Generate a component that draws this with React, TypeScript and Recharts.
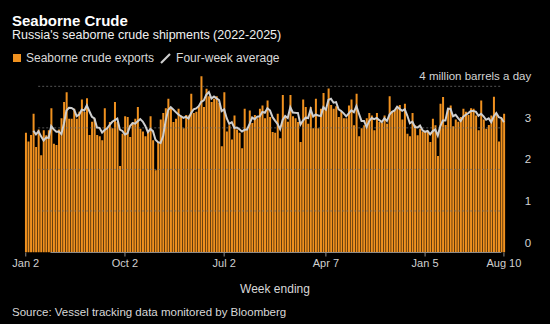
import { Bar, ComposedChart, Line, ReferenceLine, XAxis, YAxis } from "recharts"

// Weekly seaborne crude exports, million barrels a day (week ending Jan 2 2022 .. Aug 10 2025)
const exportsMbd = [
  2.88, 2.67, 2.83, 3.34, 2.54, 2.96, 2.34, 2.94, 2.82, 2.94, 3.47, 2.62, 2.59, 2.96, 3.23, 3.62,
  3.86, 3.22, 3.22, 3.46, 3.22, 3.39, 3.68, 3.38, 3.71, 2.83, 3.15, 3.22, 2.83, 2.8, 2.7,
  3.47, 2.99, 3.14, 2.99, 3.62, 3.14, 2.08, 2.86, 3.28, 3.26, 2.78, 3.14, 3.22, 3.5, 2.98, 2.91,
  2.8, 2.9, 3.28, 2.7, 1.98, 2.66, 3.2, 3.36, 3.47, 3.7, 3.46, 3.14, 3.22, 3.46, 3.3,
  2.99, 3.31, 3.3, 3.82, 3.36, 3.39, 3.52, 4.24, 3.5, 3.94, 3.76, 3.62, 3.7, 3.76, 3.6, 2.56,
  3.86, 2.91, 3.06, 2.72, 3.3, 2.96, 2.88, 2.51, 3.46, 2.99, 3.42, 3.12, 3.31, 3.23, 3.46, 3.54,
  3.23, 3.66, 3.26, 2.9, 2.88, 3.34, 2.75, 3.79, 3.26, 3.15, 3.79, 3.28, 3.23, 3.14, 2.66, 3.68,
  3.5, 3.1, 3.5, 2.99, 3.7, 2.99, 3.46, 3.84, 3.46, 3.95, 3.55, 3.46, 3.52, 3.26, 3.39, 3.23,
  3.23, 3.54, 3.68, 3.06, 3.82, 2.8, 2.99, 3.06, 3.23, 3.36, 3.3, 2.94, 3.36, 3.14, 3.12, 3.3,
  3.1, 3.76, 3.39, 3.42, 3.47, 3.55, 3.2, 3.58, 2.86, 2.8, 3.36, 3.06, 2.82, 2.98, 2.91,
  2.91, 2.9, 2.66, 3.22, 3.06, 2.32, 3.58, 3.74, 3.07, 3.47, 3.54, 3.04, 3.2, 3.15, 3.26, 3.46,
  3.39, 3.31, 3.47, 3.46, 3.3, 2.94, 3.66, 3.2, 2.98, 3.07, 3.3, 3.75, 3.31, 2.67, 3.22, 3.34,
]

const firstWeek = "2022-01-02"
const tickDates = ["2022-01-02", "2022-10-02", "2023-07-02", "2024-04-07", "2025-01-05", "2025-08-10"]
const tickLabels = ["Jan 2", "Oct 2", "Jul 2", "Apr 7", "Jan 5", "Aug 10"]
const yTicks = [0, 1, 2, 3, 4]

const DAY = 86400000
const start = Date.parse(firstWeek + "T00:00:00Z")

// four-week average is the trailing mean of the weekly figures
const data = exportsMbd.map((value, i) => ({
  date: new Date(start + i * 7 * DAY).toISOString().slice(0, 10),
  value,
  avg: i >= 3 ? (exportsMbd[i] + exportsMbd[i - 1] + exportsMbd[i - 2] + exportsMbd[i - 3]) / 4 : null,
}))

const FONT = '"Liberation Sans", Arial, sans-serif'
const ORANGE = "#f0911f"

function gridShape(extendLeft: number, extendRight: number, stroke: string, dash?: string, opacity = 1) {
  return (p: any) => (
    <line
      x1={p.x1 - extendLeft}
      x2={p.x2 + extendRight}
      y1={p.y1}
      y2={p.y2}
      stroke={stroke}
      strokeWidth={1}
      strokeDasharray={dash}
      strokeOpacity={opacity}
    />
  )
}

function YTick(props: any) {
  const { x, y, payload } = props
  const label = payload.value === 4 ? "4 million barrels a day" : String(payload.value)
  return (
    <text x={x + 26} y={y - 10} dy="0.35em" textAnchor="end" fill="#d4d4d4" fontSize={11.5} fontFamily={FONT}>
      {label}
    </text>
  )
}

export default function App() {
  return (
    <div
      style={{
        position: "absolute",
        left: 0,
        top: 0,
        width: 550,
        height: 324,
        background: "#000",
        overflow: "hidden",
        fontFamily: FONT,
      }}
    >
      <div style={{ position: "absolute", left: 12, top: 12, fontSize: 15, fontWeight: 700, color: "#fff", lineHeight: "18px" }}>
        Seaborne Crude
      </div>
      <div style={{ position: "absolute", left: 12, top: 28, fontSize: 12.5, color: "#f0f0f0", lineHeight: "14px" }}>
        Russia's seaborne crude shipments (2022-2025)
      </div>
      <div style={{ position: "absolute", left: 13, top: 51, fontSize: 12, color: "#d8d8d8", lineHeight: "14px", display: "flex", alignItems: "center" }}>
        <span style={{ display: "inline-block", width: 8, height: 8, background: ORANGE, marginRight: 5 }} />
        <span>Seaborne crude exports</span>
        <svg width={12} height={12} style={{ marginLeft: 6, marginRight: 4 }}>
          <line x1={1} y1={11} x2={10} y2={2} stroke="#cfcfcf" strokeWidth={2.2} />
        </svg>
        <span>Four-week average</span>
      </div>

      <div style={{ position: "absolute", left: 0, top: 0 }}>
        <ComposedChart
          width={550}
          height={324}
          data={data}
          margin={{ top: 69.7, right: 17.8, bottom: 0, left: 24.5 }}
          barCategoryGap="18%"
        >
          <XAxis
            dataKey="date"
            ticks={tickDates}
            interval={0}
            tickFormatter={(d: string) => tickLabels[tickDates.indexOf(d)] ?? ""}
            axisLine={false}
            tickLine={{ stroke: "#8a8a8a" }}
            tickSize={4}
            tick={{ fill: "#d0d0d0", fontSize: 11, fontFamily: FONT }}
            tickMargin={3}
            height={71.5}
          />
          <YAxis
            orientation="right"
            domain={[0, 4.4]}
            allowDataOverflow
            ticks={yTicks}
            width={27}
            axisLine={false}
            tickLine={false}
            tickSize={0}
            tickMargin={0}
            tick={<YTick />}
          />
          <Bar dataKey="value" fill={ORANGE} isAnimationActive={false} />
          {yTicks
            .filter((t) => t > 0)
            .map((t) => (
              <ReferenceLine key={t} y={t} shape={gridShape(5, 12, "#707070", "2 2", 0.75)} />
            ))}
          <Line
            dataKey="avg"
            type="linear"
            stroke="#cfcfcf"
            strokeWidth={2}
            dot={false}
            activeDot={false}
            connectNulls={false}
            isAnimationActive={false}
          />
          <ReferenceLine y={0} shape={gridShape(4, 26, "#8a8a8a")} />
        </ComposedChart>
      </div>

      <div style={{ position: "absolute", left: 0, width: 550, top: 282, textAlign: "center", fontSize: 12, color: "#d8d8d8", lineHeight: "15px" }}>
        Week ending
      </div>
      <div style={{ position: "absolute", left: 12, top: 305, fontSize: 11.5, color: "#d8d8d8", lineHeight: "15px" }}>
        Source: Vessel tracking data monitored by Bloomberg
      </div>
    </div>
  )
}
